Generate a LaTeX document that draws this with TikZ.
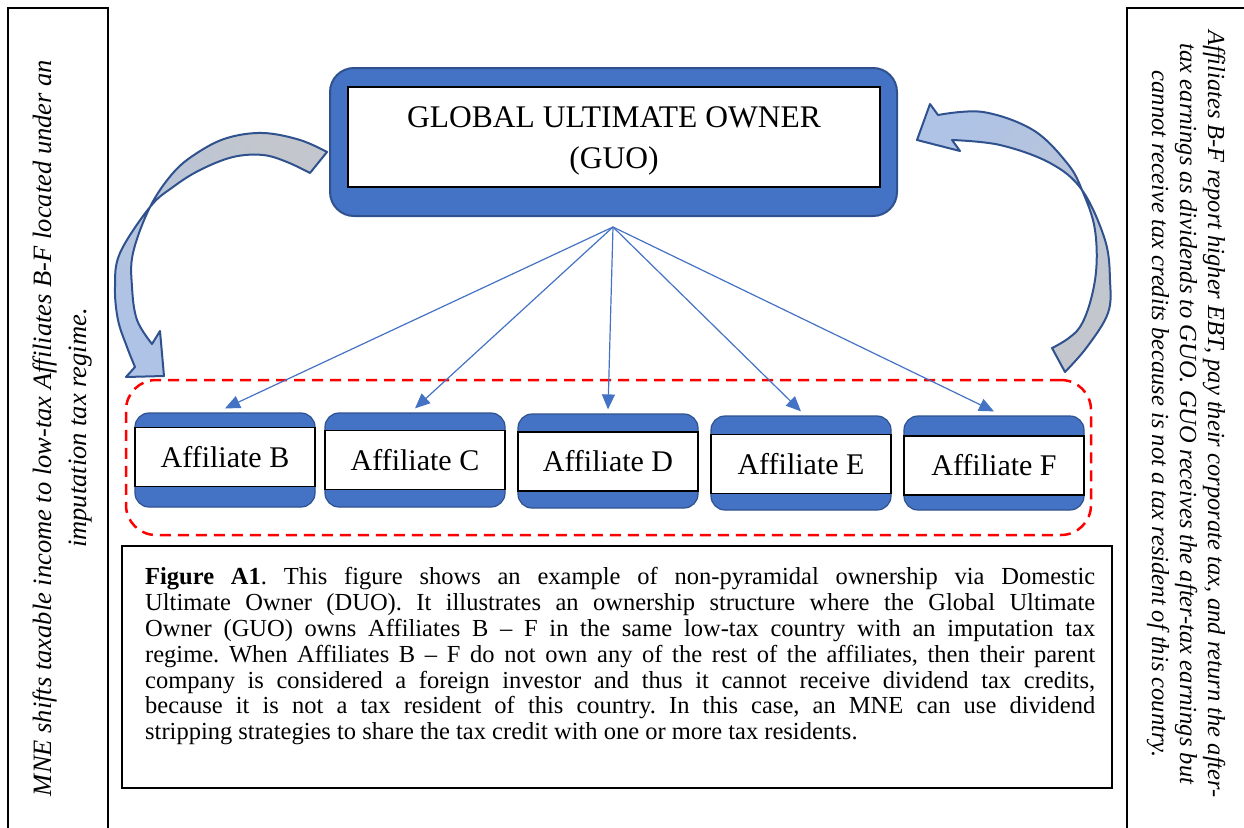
\documentclass[tikz,border=0pt]{standalone}
\usepackage{fontspec}
\setmainfont{Liberation Serif}
\usepackage{tikz}
\usetikzlibrary{arrows.meta}
\definecolor{officeblue}{HTML}{4472C4}
\definecolor{officeedge}{HTML}{2F528F}
\definecolor{arrowgray}{HTML}{C3C6CC}
\definecolor{arrowblue}{HTML}{AFC3E6}
\frenchspacing

\begin{document}
\begin{tikzpicture}[x=1pt,y=-1pt,>={Triangle[length=15pt,width=13pt]},
    ownerframe/.style={draw=officeedge,line width=2pt,fill=officeblue,
      rounded corners=24pt,minimum width=567pt,minimum height=148pt,inner sep=0pt},
    ownerbox/.style={draw,line width=2pt,fill=white,
      minimum width=532pt,minimum height=100pt,inner sep=0pt},
    affframe/.style={draw=officeedge,line width=1.2pt,fill=officeblue,
      rounded corners=14pt,minimum width=180pt,minimum height=94pt,inner sep=0pt},
    affiliate/.style={draw,line width=1.8pt,fill=white,minimum width=180pt,
      minimum height=59pt,inner sep=0pt,font=\fontsize{30}{36}\selectfont},
    link/.style={->,officeblue,line width=1.2pt},
    turnarrow/.style={draw=officeedge,line width=2pt,line join=round},
    sidenote/.style={align=center,inner sep=0pt},
    captext/.style={text width=950pt,align=justify,inner sep=0pt,
      font=\fontsize{24.5}{25.9}\selectfont}]

    \useasboundingbox (0,0) rectangle (1244,827);

    \draw[line width=1.5pt] (8,8) rectangle (108,860);
    \draw[line width=1.5pt] (1127,8) rectangle (1270,860);
    \node[sidenote,rotate=90,font=\itshape\fontsize{26.5}{35}\selectfont]
      (shiftnote) at (62,428)
      {MNE shifts taxable income to low-tax Affiliates B-F located under an\\
       imputation tax regime.};
    \node[sidenote,rotate=-90,font=\itshape\fontsize{24.5}{28}\selectfont]
      (returnnote) at (1186,414)
      {Affiliates B-F report higher EBT, pay their corporate tax, and return the after-\\
       tax earnings as dividends to GUO. GUO receives the after-tax earnings but\\
       cannot receive tax credits because is not a tax resident of this country.};

    \node[ownerframe] (guoframe) at (613.5,142) {};
    \node[ownerbox] (guobox) at (614,136.5) {};
    \node[align=center,inner sep=0pt,anchor=north,
      font=\fontsize{31.5}{41}\selectfont] (guo) at (614,106)
      {GLOBAL ULTIMATE OWNER\\(GUO)};
    \coordinate (hub) at (613,227);

    \node[draw=red,dash pattern=on 11pt off 7pt,line width=2.5pt,
      rounded corners=30pt,minimum width=965pt,minimum height=155pt]
      (lowtax) at (608.5,457.5) {};

    \foreach \n/\x/\yo/\yi in {B/225/460/457,C/415/460/460,D/608/461/461.5,
        E/801/463/464,F/994/463/465.5} {
      \node[affframe] (frame\n) at (\x,\yo) {};
      \node[affiliate] (aff\n) at (\x,\yi) {Affiliate \n};
      \draw[link] (hub) -- ([yshift=4pt]frame\n.north);
    }

    \draw[turnarrow,top color=arrowgray,bottom color=arrowblue,shading angle=-45]
      plot[smooth,tension=0.6] coordinates {(327,152) (300,140) (263,133)
        (227,138) (197,153) (173,173) (150,207) (133,253) (132,287)
        (137,320) (152,344)}
      -- (160,331) -- (164,376) -- (126,377) -- (135,367)
      -- plot[smooth,tension=0.6] coordinates {(135,367) (127,347) (118,320)
        (115,287) (120,253) (150,207) (173,187) (200,170) (233,157)
        (263,155) (287,162) (310,173)}
      -- cycle;
    \draw[turnarrow,top color=arrowblue,bottom color=arrowgray,shading angle=45]
      plot[smooth,tension=0.6] coordinates {(1065,372) (1087,347) (1108,313)
        (1110,280) (1105,240) (1082,190) (1050,163) (1000,145) (952,140)}
      -- (960,151) -- (917,140) -- (930,104) -- (938,115)
      -- plot[smooth,tension=0.6] coordinates {(938,115) (983,112) (1033,130)
        (1067,163) (1082,190) (1095,230) (1095,280) (1080,327) (1052,348)}
      -- cycle;

    \node[draw,line width=1.5pt,minimum width=990pt,minimum height=242pt,
      inner sep=0pt] (capframe) at (617,667) {};
    \node[captext,anchor=north west] (caption) at (145,567)
      {\textbf{Figure A1}. This figure shows an example of non-pyramidal ownership via Domestic\linebreak
       Ultimate Owner (DUO). It illustrates an ownership structure where the Global Ultimate\linebreak
       Owner (GUO) owns Affiliates B -- F in the same low-tax country with an imputation tax\linebreak
       regime. When Affiliates B -- F do not own any of the rest of the affiliates, then their parent\linebreak
       company is considered a foreign investor and thus it cannot receive dividend tax credits,\linebreak
       because it is not a tax resident of this country. In this case, an MNE can use dividend\linebreak
       stripping strategies to share the tax credit with one or more tax residents.};
  \end{tikzpicture}
\end{document}
